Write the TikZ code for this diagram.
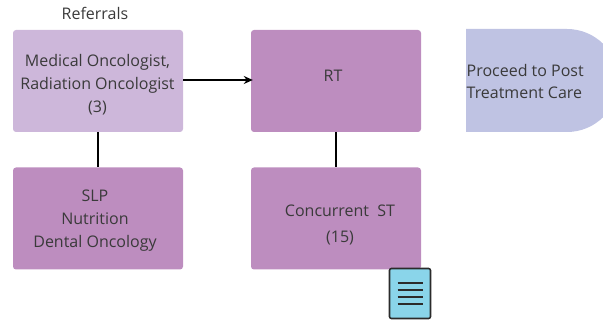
\documentclass[tikz,border=0pt]{standalone}
\usepackage{fontspec}
\setmainfont{Open Sans}
\usetikzlibrary{arrows.meta}
\definecolor{boxlight}{HTML}{CDB7DA}
\definecolor{boxdark}{HTML}{BD8DBF}
\definecolor{delayfill}{HTML}{BFC3E3}
\definecolor{docfill}{HTML}{8AD5EA}
\definecolor{ink}{HTML}{2B2B2B}
\definecolor{txt}{HTML}{3A3A3A}
\tikzset{
  x=1pt,y=-1pt,
  procbox/.style={rectangle,rounded corners=3pt,minimum width=170pt,minimum height=102pt,inner sep=0pt},
  lightbox/.style={procbox,fill=boxlight},
  darkbox/.style={procbox,fill=boxdark},
  label/.style={text=txt,inner sep=0pt,align=center,font=\fontsize{16pt}{22.8pt}\selectfont},
  conn/.style={line width=2pt,black},
  arrowconn/.style={conn,shorten >=-2pt,-{Stealth[length=9pt,width=8pt]}},
  docline/.style={line width=1.2pt,ink}
}
\begin{document}
\begin{tikzpicture}
\useasboundingbox (0,0) rectangle (603,320);
\node[lightbox] (med) at (98,81) {};
\node[label] at (97.5,84.5) (medtext) {Medical Oncologist,\\Radiation Oncologist\\(3)};
\node[darkbox] (slp) at (98,218.5) {};
\node[label] at (95,220.5) (slptext) {SLP\\Nutrition\\Dental Oncology};
\node[darkbox] (rt) at (336,81) {};
\node[label] (rttext) at (333,76) {RT};
\node[darkbox] (st) at (336,218.5) {};
\node[label,font=\fontsize{16pt}{26pt}\selectfont] (sttext) at (340,225) {Concurrent\ \ ST\\(15)};
\node[label] (ref) at (95,13) {Referrals};
\begin{scope}
\clip (0,0) rectangle (603,320);
\fill[delayfill] (466,29) -- (567,29) arc[start angle=-90,end angle=90,radius=51.5] -- (466,132) -- cycle;
\end{scope}
\node[label,align=left,anchor=west] (post) at (466.5,81.5) {Proceed to Post\\Treatment Care};
\draw[conn] (med.south) -- (slp.north);
\draw[conn] (rt.south) -- (st.north);
\draw[arrowconn] (med.east |- 0,80) -- (rt.west |- 0,80);
\node[rectangle,rounded corners=2pt,draw=ink,line width=1.6pt,fill=docfill,minimum width=41pt,minimum height=50pt,inner sep=0pt] (doc) at (410,293.5) {};
\foreach \yy in {283,290,297,304}{\draw[docline] (397.5,\yy) -- (423,\yy);}
\end{tikzpicture}
\end{document}
